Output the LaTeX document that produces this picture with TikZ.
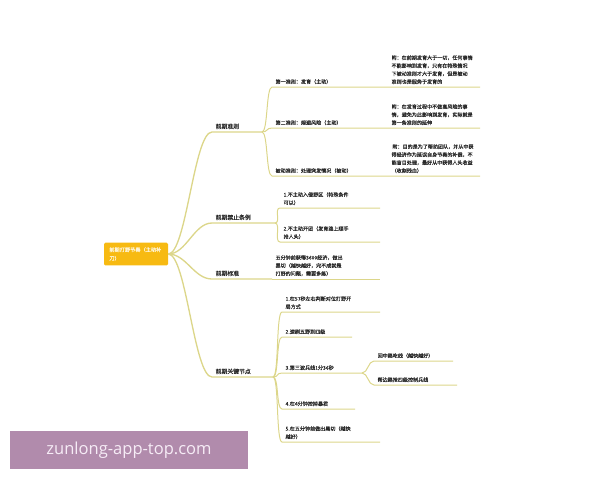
\documentclass[tikz,border=0pt]{standalone}
\usepackage{fontspec}
\setmainfont{Noto Sans CJK SC}[FakeBold=0.4]
\newfontfamily\markfont{Open Sans}
\usetikzlibrary{calc}

\definecolor{branch}{RGB}{220,214,138}
\definecolor{rootfill}{RGB}{247,186,18}
\definecolor{marklila}{RGB}{177,139,172}
\definecolor{ink}{RGB}{40,40,40}

\tikzset{
  twig/.style={to path={.. controls ($(\tikztostart)+(#1,0)$) and ($(\tikztotarget)-(#1,0)$) .. (\tikztotarget)}},
  twig/.default=6,
  link/.style={draw=branch, line width=1pt},
  sublink/.style={draw=branch, line width=0.75pt},
  topic/.style={anchor=south west, inner xsep=2.5pt, inner ysep=2pt, align=left, text=ink, font=\fontsize{4.4}{6}\selectfont},
  leaf/.style={topic, font=\fontsize{3.8}{6}\selectfont},
}

\begin{document}
\begin{tikzpicture}[x=0.75pt, y=-0.75pt]
    \useasboundingbox (0,0) rectangle (600,480);

    % root
    \node[fill=rootfill, rounded corners=1pt, text={rgb,255:red,255;green,246;blue,220}, align=left, text width=40pt, minimum width=47pt, minimum height=17pt, inner xsep=4pt, font=\fontsize{3.9}{6.5}\selectfont] (root) at (136,254) {前期打野节奏（主动补\\刀）};

    % first level
    \node[topic] (pre) at (212,132) {前期准则};
    \node[topic] (ban) at (212,223) {前期禁止条例};
    \node[topic] (std) at (212,279) {前期标准};
    \node[topic] (key) at (212,377) {前期关键节点};
    \coordinate (preF) at (262,132);
    \coordinate (banF) at (275,223);
    \coordinate (keyF) at (273,377);

    \draw[link] (root.east) to[twig=18] (pre.south west) -- (preF);
    \draw[link] (root.east) to[twig=18] (ban.south west) -- (banF);
    \draw[link] (root.east) to[twig=18] (std.south west) -- (272,279);
    \draw[link] (root.east) to[twig=18] (key.south west) -- (keyF);

    % 前期准则
    \node[leaf] (r1) at (272,87) {第一准则：发育（主动）};
    \node[leaf] (r2) at (272,128) {第二准则：规避风险（主动）};
    \node[leaf] (r3) at (272,176) {被动准则：处理突发情况（被动）};
    \node[leaf] (n1) at (388,87) {附：在前期发育大于一切，任何事情\\不能影响到发育，只有在特殊情况\\下被动准则才大于发育，但是被动\\准则也是服务于发育的};
    \node[leaf] (n2) at (388,128) {附：在发育过程中不做高风险的事\\情，避免为此影响到发育，实际就是\\第一条准则的延伸};
    \node[leaf] (n3) at (388,176) {\,附：目的是为了帮助团队，并从中获\\得经济作为延误自身节奏的补偿，不\\能盲目处理，最好从中获得人头收益\\（收割残血）};
    \coordinate (n1e) at (480,87);
    \coordinate (n2e) at (480,128);
    \coordinate (n3e) at (480,176);
    \draw[sublink] (preF) to[twig] (r1.south west) -- (n1e);
    \draw[sublink] (preF) to[twig] (r2.south west) -- (n2e);
    \draw[sublink] (preF) to[twig] (r3.south west) -- (n3e);

    % 前期禁止条例
    \node[leaf] (b1) at (280,208) {1.不主动入侵野区（特殊条件\\可以）};
    \node[leaf] (b2) at (280,242) {2.不主动开团（发育路上顺手\\抢人头）};
    \coordinate (b1e) at (380,208);
    \coordinate (b2e) at (380,242);
    \draw[sublink] (banF) to[twig] (b1.south west) -- (b1e);
    \draw[sublink] (banF) to[twig] (b2.south west) -- (b2e);

    % 前期标准
    \node[leaf] (s1) at (272,279) {五分钟前获得3600经济，做出\\黑切（越快越好，完不成就是\\打野的问题，需要多练）};
    \coordinate (s1e) at (380,279);
    \draw[sublink] (s1.south west) -- (s1e);

    % 前期关键节点
    \node[leaf] (k1) at (282,312) {1.在57秒左右判断对位打野开\\局方式};
    \node[leaf] (k2) at (282,337) {2.速刷五野到四级};
    \node[leaf] (k3) at (282,373) {3.第三波兵线1分36秒};
    \node[leaf] (k4) at (282,409) {4.在4分钟控掉暴君};
    \node[leaf] (k5) at (282,442) {5.在五分钟前做出黑切（越快\\越好）};
    \coordinate (k1e) at (380,312);
    \coordinate (k2e) at (352,337);
    \coordinate (k3F) at (362,373);
    \coordinate (k4e) at (355,409);
    \coordinate (k5e) at (380,442);
    \draw[sublink] (keyF) to[twig] (k1.south west) -- (k1e);
    \draw[sublink] (keyF) to[twig] (k2.south west) -- (k2e);
    \draw[sublink] (keyF) to[twig] (k3.south west) -- (k3F);
    \draw[sublink] (keyF) to[twig] (k4.south west) -- (k4e);
    \draw[sublink] (keyF) to[twig] (k5.south west) -- (k5e);

    \node[leaf] (k31) at (374,361) {回中路吃线（越快越好）};
    \node[leaf] (k32) at (374,385) {帮边路抢四级控制兵线};
    \coordinate (k31e) at (453,361);
    \coordinate (k32e) at (457,385);
    \draw[sublink] (k3F) to[twig] (k31.south west) -- (k31e);
    \draw[sublink] (k3F) to[twig] (k32.south west) -- (k32e);

    % watermark
    \fill[marklila] (10,431) rectangle (248,469);
    \node[text={rgb,255:red,246;green,236;blue,246}, font=\markfont\fontsize{12.4}{14}\selectfont] (mark) at (129,450) {zunlong-app-top.com};
\end{tikzpicture}
\end{document}
